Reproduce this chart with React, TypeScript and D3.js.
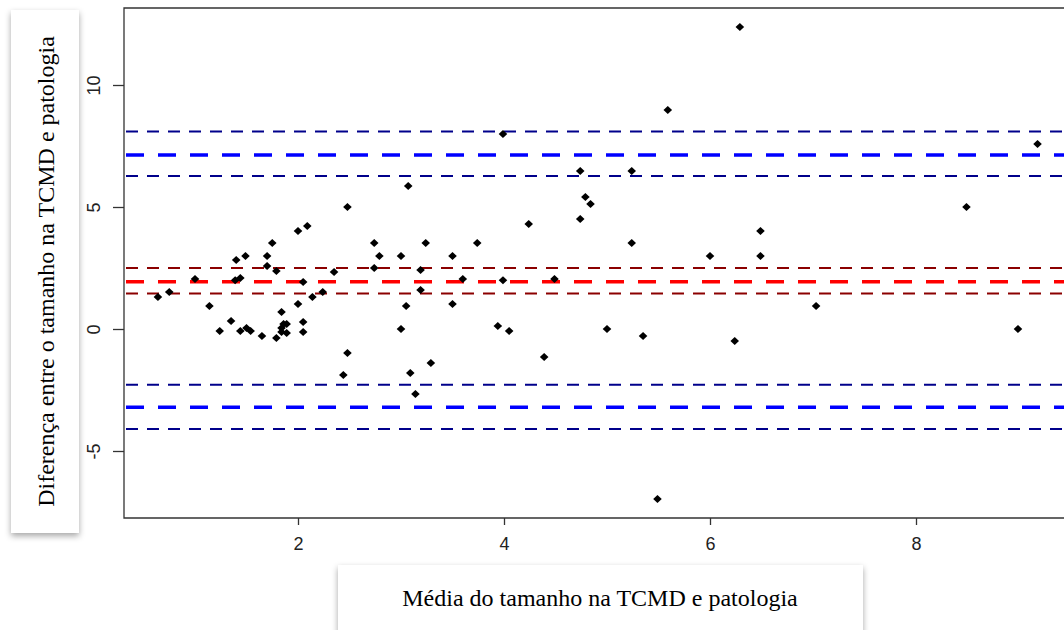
import React, { useEffect, useRef } from 'react';
import * as d3 from 'd3';

// média das duas medidas (eixo x)
const meanVals = [
  0.64, 0.75, 1.0, 1.14, 1.24, 1.35, 1.4, 1.39, 1.44, 1.49, 1.44, 1.5, 1.54, 1.65, 1.7, 1.7, 1.75, 1.79, 1.79, 1.84,
  1.84, 1.86, 1.89, 1.89, 1.84, 2.0, 2.0, 2.05, 2.05, 2.05, 2.09, 2.14, 2.24, 2.35, 2.48, 2.48, 2.44, 2.74, 2.79, 2.74,
  3.0, 3.0, 3.05, 3.07, 3.09, 3.14, 3.19, 3.19, 3.24, 3.29, 3.5, 3.5, 3.6, 3.74, 3.94, 3.99, 3.99, 4.05, 4.24, 4.39,
  4.49, 4.74, 4.74, 4.79, 4.84, 5.0, 5.24, 5.24, 5.35, 5.49, 5.59, 6.0, 6.24, 6.29, 6.49, 6.49, 7.03, 8.49, 8.99, 9.18,
];
// diferença entre as duas medidas (eixo y)
const diffVals = [
  1.31, 1.52, 2.05, 0.94, -0.08, 0.33, 2.83, 2.0, 2.09, 2.99, -0.08, 0.04, -0.08, -0.29, 2.99, 2.58, 3.52, 2.38, -0.37, 0.7,
  -0.12, 0.2, 0.2, -0.16, 0.04, 1.02, 4.02, 0.29, -0.12, 1.93, 4.22, 1.31, 1.52, 2.34, 5.0, -0.98, -1.89, 3.52, 2.99, 2.5,
  2.99, 0.0, 0.94, 5.86, -1.8, -2.66, 2.42, 1.6, 3.52, -1.39, 2.99, 1.02, 2.05, 3.52, 0.12, 7.99, 2.0, -0.08, 4.3, -1.15,
  2.05, 6.48, 4.51, 5.41, 5.12, 0.0, 6.48, 3.52, -0.29, -6.97, 8.98, 2.99, -0.49, 12.38, 4.02, 2.99, 0.94, 5.0, 0.0, 7.58,
];

// linhas de referência: média das diferenças e limites de concordância com IC
const refLevels = [8.09, 7.13, 6.27, 2.5, 1.94, 1.46, -2.28, -3.21, -4.1];
const refColors = ['#00008b', '#0000ff', '#00008b', '#8b0000', '#ff0000', '#8b0000', '#00008b', '#0000ff', '#00008b'];
const refThick = [false, true, false, false, true, false, false, true, false];

const xTicks = [2, 4, 6, 8];
const yTicks = [-5, 0, 5, 10];

const xLabel = 'Média do tamanho na TCMD e patologia';
const yLabel = 'Diferença entre o tamanho na TCMD e patologia';

export default function App() {
  const svgRef = useRef<SVGSVGElement>(null);

  useEffect(() => {
    const svg = d3.select(svgRef.current);
    svg.selectAll('*').remove();

    const width = 1064,
      height = 630;
    const plot = { left: 124, top: 8, right: 1072, bottom: 518 };

    const x = d3.scaleLinear().domain([2, 8]).range([298, 916]);
    const y = d3.scaleLinear().domain([-5, 10]).range([451, 85]);

    const defs = svg.append('defs');
    const sh = defs
      .append('filter')
      .attr('id', 'shadow')
      .attr('x', '-10%')
      .attr('y', '-10%')
      .attr('width', '130%')
      .attr('height', '130%');
    sh.append('feDropShadow')
      .attr('dx', 0)
      .attr('dy', 3)
      .attr('stdDeviation', 3)
      .attr('flood-color', '#000')
      .attr('flood-opacity', 0.35);

    svg.append('rect').attr('width', width).attr('height', height).attr('fill', '#fff');

    // y label box
    svg
      .append('rect')
      .attr('x', 11)
      .attr('y', 10)
      .attr('width', 68)
      .attr('height', 523)
      .attr('fill', '#fff')
      .attr('filter', 'url(#shadow)');
    svg
      .append('text')
      .attr('transform', `translate(54, ${(35 + 508) / 2}) rotate(-90)`)
      .attr('text-anchor', 'middle')
      .attr('font-family', 'Liberation Serif, Times New Roman, serif')
      .attr('font-size', 24)
      .attr('fill', '#000')
      .text(yLabel);

    // x label box
    svg
      .append('rect')
      .attr('x', 338)
      .attr('y', 565)
      .attr('width', 525)
      .attr('height', 80)
      .attr('fill', '#fff')
      .attr('filter', 'url(#shadow)');
    svg
      .append('text')
      .attr('x', 600)
      .attr('y', 606)
      .attr('text-anchor', 'middle')
      .attr('font-family', 'Liberation Serif, Times New Roman, serif')
      .attr('font-size', 24)
      .attr('fill', '#000')
      .text(xLabel);

    // reference lines
    const g = svg.append('g');
    refLevels.forEach((v, i) => {
      g.append('line')
        .attr('x1', plot.left + 2)
        .attr('x2', plot.right)
        .attr('y1', y(v))
        .attr('y2', y(v))
        .attr('stroke', refColors[i])
        .attr('stroke-width', refThick[i] ? 3.5 : 2)
        .attr('stroke-dasharray', refThick[i] ? '18,14' : '12,9');
    });

    // points (pch 18)
    const diamond = 'M0,-4L4.3,0L0,4L-4.3,0Z';
    g.selectAll('path.pt')
      .data(meanVals.map((m, i) => [m, diffVals[i]]))
      .enter()
      .append('path')
      .attr('class', 'pt')
      .attr('d', diamond)
      .attr('transform', (d) => `translate(${x(d[0])},${y(d[1])})`)
      .attr('fill', '#000');

    // frame
    svg
      .append('path')
      .attr('d', `M${plot.right},${plot.top}H${plot.left}V${plot.bottom}H${plot.right}`)
      .attr('fill', 'none')
      .attr('stroke', '#333')
      .attr('stroke-width', 1.3);

    const fmt = (d) => String(d);

    // x axis
    const xa = svg.append('g').attr('transform', `translate(0,${plot.bottom})`);
    xa.call(d3.axisBottom(x).tickValues(xTicks).tickSize(7).tickFormat(fmt));
    xa.select('.domain').remove();
    xa.selectAll('line').attr('stroke', '#333').attr('stroke-width', 1.3);
    xa.selectAll('text')
      .attr('font-family', 'Liberation Sans, Arial, sans-serif')
      .attr('font-size', 18)
      .attr('fill', '#222')
      .attr('dy', '1.2em');

    // y axis
    const ya = svg.append('g').attr('transform', `translate(${plot.left},0)`);
    ya.call(d3.axisLeft(y).tickValues(yTicks).tickSize(11).tickFormat(fmt));
    ya.select('.domain').remove();
    ya.selectAll('line').attr('stroke', '#333').attr('stroke-width', 1.3);
    ya.selectAll('text')
      .attr('font-family', 'Liberation Sans, Arial, sans-serif')
      .attr('font-size', 18)
      .attr('fill', '#222')
      .attr('x', null)
      .attr('text-anchor', 'middle')
      .attr('transform', 'translate(-30,0) rotate(-90)')
      .attr('y', 0)
      .attr('dy', '0.35em');
  }, []);

  return (
    <svg
      ref={svgRef}
      width="1064"
      height="630"
      style={{ position: 'absolute', left: 0, top: 0, display: 'block' }}
    />
  );
}
